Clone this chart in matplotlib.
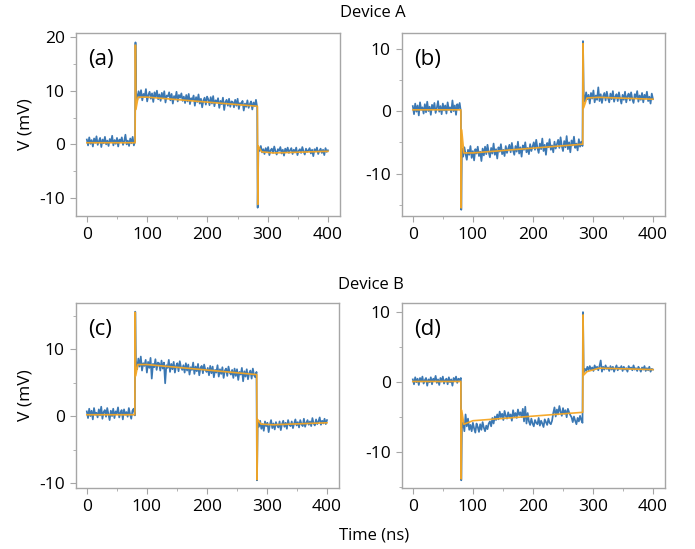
import numpy as np
import matplotlib
matplotlib.use("Agg")
import matplotlib.pyplot as plt
from matplotlib.ticker import MultipleLocator

plt.rcParams['font.family'] = ['Open Sans', 'DejaVu Sans']
plt.rcParams['axes.unicode_minus'] = False

# ---------------- data (mV) ----------------
# each trace: baseline (0-80 ns), spike, plateau (82-282 ns), spike, tail (285-400 ns)
a_base = [0.9, -0.2, 1.3, 0.1, 0.8, -0.4, 1.1, 0.3, 1.5, -0.1, 0.6, 1.2, -0.5, 0.9, 0.2, 1.4, 0.0, 0.7, -0.3, 1.0,
          0.4, 1.6, -0.2, 0.8, 0.1, 1.2, -0.4, 0.9, 0.5, 1.3, -0.1, 0.6, 1.8, 0.0, 0.7, -0.3, 1.1, 0.2, 1.4, -0.2, 0.6]
a_spike1 = 19.0
a_mid = [9.6, 8.3, 9.9, 8.7, 10.1, 8.2, 9.4, 8.9, 10.3, 8.0, 9.2, 9.8, 8.5, 9.5, 7.9, 9.7, 8.8, 10.0, 8.4,
         9.3, 8.1, 9.6, 8.6, 9.9, 7.8, 9.1, 8.9, 9.7, 8.2, 9.4, 7.6, 9.0, 8.4, 9.8, 8.0, 9.2, 8.7, 9.5, 8.1,
         8.9, 7.7, 9.2, 8.0, 9.4, 7.5, 8.6, 8.3, 9.1, 7.2, 8.8, 7.9, 9.3, 7.6, 8.5, 6.9, 8.2, 8.7, 7.4, 8.9,
         8.4, 7.3, 8.8, 7.6, 9.0, 7.1, 8.2, 7.8, 8.6, 6.8, 8.1, 7.5, 8.7, 6.4, 7.9, 8.3, 7.2, 8.5, 7.0, 8.0,
         7.9, 6.9, 8.3, 7.2, 8.5, 6.6, 7.7, 7.4, 8.1, 6.3, 7.6, 7.0, 8.2, 6.8, 7.5, 8.0, 6.5, 7.8, 7.1, 8.3, 6.9]
a_spike2 = -11.8
a_tail = [-0.6, -1.2, -0.3, -1.5, -0.9, -1.8, -0.7, -1.4, -0.5, -2.0, -1.1, -0.8, -1.6, -0.4, -1.3, -1.9, -0.9,
          -1.2, -0.5, -1.7, -1.0, -2.1, -0.8, -1.4, -0.6, -1.6, -1.1, -0.7, -1.8, -1.0, -1.5, -0.6, -2.0, -1.2,
          -0.9, -1.6, -0.5, -1.3, -1.9, -0.8, -1.4, -1.1, -0.7, -1.7, -1.0, -2.2, -0.9, -1.3, -0.6, -1.8, -1.2,
          -0.8, -1.6, -1.0, -2.0, -0.7, -1.4, -1.1]

b_base = [0.8, -0.5, 1.2, -0.1, 0.9, -0.7, 1.4, 0.2, 0.6, -0.4, 1.1, -0.2, 1.5, 0.0, 0.7, -0.6, 1.0, 0.3, 1.3, -0.3,
          0.5, 1.6, -0.1, 0.8, -0.5, 1.2, 0.1, 0.9, -0.4, 1.4, 0.2, 0.6, -0.2, 1.7, 0.0, 0.9, -0.6, 1.1, 0.4, 1.3, -0.1]
b_spike1 = -15.8
b_mid = [-6.0, -7.3, -5.8, -6.9, -7.8, -6.2, -7.0, -5.6, -7.5, -6.4, -7.9, -6.1, -6.8, -5.7, -7.2, -6.5, -8.0, -6.0, -7.1,
         -5.7, -6.9, -5.4, -6.6, -7.4, -5.9, -6.8, -5.2, -7.0, -6.1, -7.6, -5.8, -6.5, -5.3, -6.9, -6.2, -7.2, -5.6, -6.7, -6.0,
         -5.4, -6.6, -5.1, -6.3, -7.0, -5.6, -6.5, -4.9, -6.8, -5.8, -7.3, -5.5, -6.2, -5.0, -6.6, -5.9, -6.9, -5.3, -6.4, -5.7,
         -5.0, -6.2, -4.6, -5.9, -6.7, -5.2, -6.1, -4.4, -6.4, -5.4, -7.0, -5.1, -5.8, -4.5, -6.2, -5.5, -6.6, -4.9, -6.0, -5.3,
         -4.6, -5.9, -4.2, -5.6, -6.4, -4.8, -5.8, -4.0, -6.1, -5.0, -6.6, -4.7, -5.5, -4.1, -5.9, -5.2, -6.3, -4.5, -5.7, -4.9, -5.6]
b_spike2 = 11.2
b_tail = [2.8, 1.5, 3.0, 1.9, 2.6, 1.2, 2.9, 2.0, 3.3, 1.4, 2.5, 1.8, 3.8, 1.6, 2.7, 1.3, 2.4, 2.9, 1.7, 3.1, 2.1, 1.4,
          2.8, 1.9, 3.2, 1.5, 2.3, 2.7, 1.6, 3.0, 2.0, 1.2, 2.6, 1.8, 3.1, 1.4, 2.4, 2.8, 1.7, 3.0, 1.9, 1.3, 2.7, 2.2,
          3.2, 1.5, 2.5, 1.8, 2.9, 1.4, 2.6, 2.0, 3.1, 1.6, 2.3, 1.2, 2.8, 1.9]

c_base = [0.7, -0.3, 1.1, 0.0, 0.8, -0.5, 1.2, 0.2, 0.5, -0.2, 1.0, 0.1, 1.4, -0.4, 0.6, 0.9, -0.1, 1.2, 0.3, -0.6,
          0.8, 0.0, 1.1, -0.3, 0.7, 0.4, 1.3, -0.2, 0.5, 0.9, -0.5, 1.0, 0.2, 0.6, -0.1, 1.2, 0.3, -0.4, 0.8, 1.1, 0.1]
c_spike1 = 15.6
c_mid = [8.3, 7.0, 8.6, 7.4, 8.9, 6.8, 7.9, 7.5, 8.4, 6.5, 8.1, 7.2, 8.7, 5.6, 7.8, 7.3, 8.5, 6.9, 8.0,
         7.9, 6.8, 8.3, 7.1, 8.0, 4.9, 7.6, 7.2, 8.4, 6.6, 7.8, 7.0, 8.1, 6.5, 7.5, 7.9, 6.7, 8.2, 7.3, 6.9,
         7.6, 6.5, 7.9, 6.8, 7.7, 6.2, 7.3, 6.9, 8.0, 6.3, 7.4, 6.7, 7.8, 6.1, 7.2, 7.5, 6.4, 7.7, 6.9, 6.6,
         7.2, 6.1, 7.5, 6.4, 7.4, 5.8, 6.9, 6.5, 7.6, 5.9, 7.0, 6.3, 7.3, 5.7, 6.8, 7.1, 6.0, 7.4, 6.5, 6.2,
         6.9, 5.7, 7.1, 6.0, 7.0, 5.4, 6.6, 6.2, 7.2, 5.2, 6.7, 5.9, 7.0, 5.5, 6.4, 6.8, 5.6, 7.1, 6.1, 5.8, 6.6]
c_spike2 = -9.6
c_tail = [-0.9, -1.6, -0.7, -1.9, -1.2, -2.2, -0.8, -1.5, -1.0, -2.4, -1.3, -0.6, -1.8, -1.1, -2.0, -0.9, -1.4,
          -1.7, -0.8, -2.1, -1.2, -0.7, -1.6, -1.0, -1.9, -0.6, -1.3, -1.5, -0.8, -1.8, -1.1, -0.5, -1.4, -0.9,
          -1.7, -0.6, -1.2, -1.5, -0.4, -1.6, -1.0, -0.6, -1.3, -0.8, -1.5, -0.3, -1.1, -1.4, -0.5, -1.2, -0.8,
          -0.2, -1.3, -0.7, -1.1, -0.4, -1.2, -0.6]

d_base = [0.4, -0.3, 0.7, 0.0, 0.5, -0.4, 0.6, 0.1, 0.8, -0.2, 0.3, 0.6, -0.5, 0.4, 0.0, 0.7, -0.3, 0.5, 0.2, 0.9,
          -0.1, 0.4, -0.4, 0.6, 0.1, 0.8, -0.2, 0.3, 0.5, -0.3, 0.7, 0.0, 0.4, -0.5, 0.6, 0.2, 0.8, -0.1, 0.5, 0.3, 0.6]
d_spike1 = -14.0
d_mid = [-6.6, -5.7, -7.0, -4.6, -6.3, -5.2, -6.8,
         -6.1, -7.0, -5.8, -6.6, -7.2, -5.9, -6.4, -7.1, -6.0, -6.8, -5.7, -6.5, -7.0, -6.2, -6.7, -5.9,
         -5.6, -6.3, -5.1, -5.9, -4.9, -5.4,
         -4.6, -5.3, -4.2, -5.0, -4.5, -5.4, -4.1, -4.8, -5.2, -4.3, -5.0, -4.6, -5.5, -4.0, -4.9, -4.4, -5.1,
         -3.9, -4.7, -4.3, -5.0,
         -3.8, -5.6, -3.5, -5.9, -4.4,
         -5.6, -6.1, -5.2, -5.9, -6.3, -5.4, -5.8, -6.0, -5.1, -6.2, -5.5, -5.9, -6.4, -5.3, -5.7, -6.1, -5.2,
         -5.8, -6.0, -5.5,
         -4.4, -3.6, -4.9, -3.9, -4.6, -3.4, -4.2, -4.8, -3.7, -4.5, -4.0, -5.0, -3.8, -4.3, -4.7,
         -5.0, -5.7, -4.9, -5.5, -6.0, -5.1, -5.6, -4.8, -5.4, -5.8]
d_spike2 = 10.0
d_tail = [1.4, 1.9, 1.6, 2.2, 1.7, 2.3, 1.8, 2.1, 1.6, 2.4, 1.9, 2.2, 1.7, 2.3, 3.1, 1.5, 2.2, 1.8, 2.4, 1.9, 2.1,
          1.6, 2.3, 1.8, 2.2, 1.5, 2.0, 2.4, 1.7, 2.1, 1.9, 2.3, 1.6, 2.2, 1.8, 2.0, 1.5, 2.3, 1.9, 2.1, 1.7, 2.4,
          1.8, 2.0, 1.6, 2.2, 1.9, 1.5, 2.1, 1.8, 2.3, 1.6, 2.0, 1.7, 2.2, 1.5, 1.9, 1.8]

# fitted curves (orange): breakpoints (ns, mV)
fit_t = [0, 80, 80.6, 81.4, 85, 100, 283, 283.6, 284.4, 290, 310, 400]
a_fit = [0.3, 0.3, 18.5, 6.5, 8.8, 8.8, 7.1, -11.2, -0.3, -1.4, -1.6, -1.3]
b_fit = [0.2, 0.2, -15.5, -3.0, -6.7, -6.7, -5.3, 10.8, 0.5, 2.1, 2.2, 1.9]
c_fit = [0.2, 0.2, 15.5, 6.0, 7.7, 7.7, 6.2, -9.5, -0.5, -1.2, -1.3, -1.0]
d_fit = [0.1, 0.1, -13.8, -4.0, -6.0, -5.5, -4.3, 9.6, 1.0, 1.5, 2.0, 1.8]

panels = [
    ("(a)", a_base, a_spike1, a_mid, a_spike2, a_tail, a_fit, (-13.35, 20.75), [-10, 0, 10, 20]),
    ("(b)", b_base, b_spike1, b_mid, b_spike2, b_tail, b_fit, (-16.8, 12.5), [-10, 0, 10]),
    ("(c)", c_base, c_spike1, c_mid, c_spike2, c_tail, c_fit, (-10.75, 16.9), [-10, 0, 10]),
    ("(d)", d_base, d_spike1, d_mid, d_spike2, d_tail, d_fit, (-15.1, 11.3), [-10, 0, 10]),
]

W, H = 695, 549
boxes = [(76, 33, 340, 216), (402, 33, 665, 216), (76, 303, 339, 488), (402, 303, 665, 488)]

fig = plt.figure(figsize=(6.95, 5.49), dpi=100)
blue = "#3b78b3"
orange = "#f5a623"
spine_c = "#a6a6a6"

for (lab, base, s1, mid, s2, tail, fit, ylim, yt), (l, t, r, b) in zip(panels, boxes):
    ax = fig.add_axes([l / W, 1 - b / H, (r - l) / W, (b - t) / H])
    tt = np.concatenate([np.linspace(0, 80, len(base)), [80.7],
                         np.linspace(81.8, 282.6, len(mid)), [283.4],
                         np.linspace(284.6, 400, len(tail))])
    vv = np.array(base + [s1] + mid + [s2] + tail)
    ax.plot(tt, vv, color=blue, lw=1.25)
    ax.plot(fit_t, fit, color=orange, lw=1.2, alpha=0.95)
    ax.set_xlim(-18, 420)
    ax.set_ylim(*ylim)
    ax.set_xticks([0, 100, 200, 300, 400])
    ax.set_yticks(yt)
    ax.xaxis.set_minor_locator(MultipleLocator(50))
    ax.yaxis.set_minor_locator(MultipleLocator(5))
    ax.tick_params(which='both', direction='out', color=spine_c, labelsize=12.5, pad=4)
    ax.tick_params(which='major', length=4)
    ax.tick_params(which='minor', length=2.5)
    for sp in ax.spines.values():
        sp.set_color(spine_c)
        sp.set_linewidth(1.0)
    ax.text(0.045, 0.855, lab, transform=ax.transAxes, fontsize=16, ha='left', va='center')
    if lab in ("(a)", "(c)"):
        ax.set_ylabel("V (mV)", fontsize=12.5, labelpad=4)

fig.text(373 / W, 1 - 13 / H, "Device A", ha='center', va='center', fontsize=12)
fig.text(371 / W, 1 - 285 / H, "Device B", ha='center', va='center', fontsize=12)
fig.text(374 / W, 1 - 535 / H, "Time (ns)", ha='center', va='center', fontsize=12)

fig.savefig("out.png", dpi=100)
